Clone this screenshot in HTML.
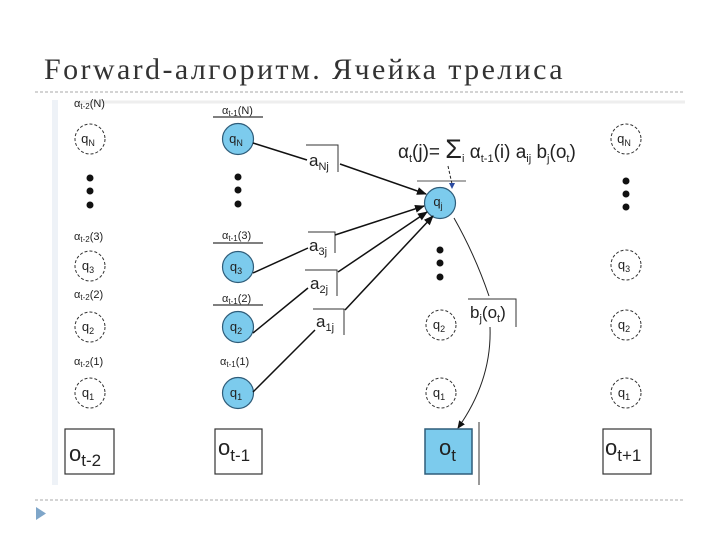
<!DOCTYPE html>
<html><head><meta charset="utf-8"><style>
body{margin:0;background:#fff;}
svg{display:block;}
.t{font-family:"Liberation Sans",sans-serif;fill:#222;}
</style></head><body>
<svg width="720" height="540" viewBox="0 0 720 540" xmlns="http://www.w3.org/2000/svg">
<defs>
<marker id="ar" markerWidth="10" markerHeight="8" refX="9" refY="4" orient="auto" markerUnits="userSpaceOnUse">
<path d="M0,0 L10,4 L0,8 z" fill="#111"/></marker>
<marker id="ar2" markerWidth="8" markerHeight="7" refX="7" refY="3.5" orient="auto" markerUnits="userSpaceOnUse">
<path d="M0,0 L8,3.5 L0,7 z" fill="#111"/></marker>
</defs>
<text x="44" y="79" font-family="'Liberation Serif',serif" font-size="30" letter-spacing="2.4" fill="#333">Forward-алгоритм. Ячейка трелиса</text>
<line x1="35" y1="92" x2="685" y2="92" stroke="#aaa" stroke-dasharray="3,2"/>
<line x1="35" y1="500" x2="685" y2="500" stroke="#aaa" stroke-dasharray="3,2"/>
<path d="M36,507 L46,513.5 L36,520 z" fill="#7fa6c9"/>
<rect x="52" y="100" width="6" height="385" fill="#eef2f7"/>
<line x1="75" y1="102" x2="685" y2="102" stroke="#eee" stroke-width="3"/>

<g class="t" font-size="11">
<text x="74" y="107">α<tspan font-size="8" dy="2">t-2</tspan><tspan dy="-2">(N)</tspan></text>
<text x="74" y="240">α<tspan font-size="8" dy="2">t-2</tspan><tspan dy="-2">(3)</tspan></text>
<text x="74" y="298">α<tspan font-size="8" dy="2">t-2</tspan><tspan dy="-2">(2)</tspan></text>
<text x="74" y="365">α<tspan font-size="8" dy="2">t-2</tspan><tspan dy="-2">(1)</tspan></text>
<text x="222" y="114">α<tspan font-size="8" dy="2">t-1</tspan><tspan dy="-2">(N)</tspan></text>
<text x="222" y="239">α<tspan font-size="8" dy="2">t-1</tspan><tspan dy="-2">(3)</tspan></text>
<text x="222" y="302">α<tspan font-size="8" dy="2">t-1</tspan><tspan dy="-2">(2)</tspan></text>
<text x="220" y="365">α<tspan font-size="8" dy="2">t-1</tspan><tspan dy="-2">(1)</tspan></text>
</g>
<g stroke="#555" stroke-width="1.5">
<line x1="213" y1="117" x2="263" y2="117"/>
<line x1="213" y1="243" x2="263" y2="243"/>
<line x1="213" y1="305" x2="263" y2="305"/>
<line x1="417" y1="181" x2="466" y2="181" stroke-width="1"/>
</g>

<g fill="none" stroke="#333" stroke-dasharray="3,2">
<circle cx="90" cy="139" r="15"/><circle cx="90" cy="266" r="15"/><circle cx="90" cy="327" r="15"/><circle cx="90" cy="393" r="15"/>
<circle cx="441" cy="325" r="15"/><circle cx="441" cy="393" r="15"/>
<circle cx="626" cy="139" r="15"/><circle cx="626" cy="265" r="15"/><circle cx="626" cy="325" r="15"/><circle cx="626" cy="393" r="15"/>
</g>
<g fill="#111">
<circle cx="90" cy="178" r="3.5"/><circle cx="90" cy="191" r="3.5"/><circle cx="90" cy="205" r="3.5"/>
<circle cx="238" cy="177" r="3.5"/><circle cx="238" cy="190" r="3.5"/><circle cx="238" cy="204" r="3.5"/>
<circle cx="440" cy="250" r="3.5"/><circle cx="440" cy="263" r="3.5"/><circle cx="440" cy="277" r="3.5"/>
<circle cx="626" cy="181" r="3.5"/><circle cx="626" cy="194" r="3.5"/><circle cx="626" cy="207" r="3.5"/>
</g>
<g fill="#7ccbed" stroke="#2f5d7a" stroke-width="1.2">
<circle cx="238" cy="139" r="15.5"/><circle cx="238" cy="267" r="15.5"/><circle cx="238" cy="327" r="15.5"/><circle cx="238" cy="393" r="15.5"/>
<circle cx="440" cy="203" r="15.5"/>
</g>
<g class="t" font-size="13" text-anchor="middle">
<text x="88" y="143">q<tspan font-size="9" dy="3">N</tspan></text>
<text x="88" y="270">q<tspan font-size="9" dy="3">3</tspan></text>
<text x="88" y="331">q<tspan font-size="9" dy="3">2</tspan></text>
<text x="88" y="397">q<tspan font-size="9" dy="3">1</tspan></text>
<text x="236" y="143">q<tspan font-size="9" dy="3">N</tspan></text>
<text x="236" y="271">q<tspan font-size="9" dy="3">3</tspan></text>
<text x="236" y="331">q<tspan font-size="9" dy="3">2</tspan></text>
<text x="236" y="397">q<tspan font-size="9" dy="3">1</tspan></text>
<text x="438" y="206">q<tspan font-size="9" dy="3">j</tspan></text>
<text x="439" y="329">q<tspan font-size="9" dy="3">2</tspan></text>
<text x="439" y="397">q<tspan font-size="9" dy="3">1</tspan></text>
<text x="624" y="143">q<tspan font-size="9" dy="3">N</tspan></text>
<text x="624" y="269">q<tspan font-size="9" dy="3">3</tspan></text>
<text x="624" y="329">q<tspan font-size="9" dy="3">2</tspan></text>
<text x="624" y="397">q<tspan font-size="9" dy="3">1</tspan></text>
</g>

<g stroke="#333" fill="none" stroke-width="1">
<path d="M306,145 H338 V172"/>
<path d="M308,232 H335 V253"/>
<path d="M305,270 H337 V296"/>
<path d="M313,309 H344 V335"/>
<path d="M468,299 H516 V327"/>
<line x1="479" y1="422" x2="479" y2="485"/>
</g>
<g class="t" font-size="17">
<text x="309" y="166">a<tspan font-size="11" dy="4">Nj</tspan></text>
<text x="309" y="251">a<tspan font-size="11" dy="4">3j</tspan></text>
<text x="310" y="289">a<tspan font-size="11" dy="4">2j</tspan></text>
<text x="316" y="327">a<tspan font-size="11" dy="4">1j</tspan></text>
<text x="470" y="318">b<tspan font-size="11" dy="4">j</tspan><tspan dy="-4">(o</tspan><tspan font-size="11" dy="4">t</tspan><tspan dy="-4">)</tspan></text>
</g>
<text class="t" x="398" y="158" font-size="19">α<tspan font-size="11" dy="4">t</tspan><tspan dy="-4">(j)= </tspan><tspan font-size="27">Σ</tspan><tspan font-size="11" dy="4">i</tspan><tspan dy="-4"> α</tspan><tspan font-size="11" dy="4">t-1</tspan><tspan dy="-4">(i) a</tspan><tspan font-size="11" dy="4">ij</tspan><tspan dy="-4"> b</tspan><tspan font-size="11" dy="4">j</tspan><tspan dy="-4">(o</tspan><tspan font-size="11" dy="4">t</tspan><tspan dy="-4">)</tspan></text>

<g stroke="#111" stroke-width="1.5" fill="none">
<line x1="253" y1="143" x2="307" y2="160"/>
<line x1="253" y1="273" x2="308" y2="248"/>
<line x1="253" y1="333" x2="308" y2="288"/>
<line x1="253" y1="392" x2="315" y2="330"/>
<line x1="340" y1="164" x2="426" y2="194" marker-end="url(#ar)"/>
<line x1="335" y1="235" x2="424" y2="206" marker-end="url(#ar)"/>
<line x1="338" y1="272" x2="427" y2="212" marker-end="url(#ar)"/>
<line x1="345" y1="310" x2="433" y2="216" marker-end="url(#ar)"/>
</g>
<g stroke="#222" stroke-width="1" fill="none">
<path d="M454,218 Q475,255 489,296"/>
<path d="M490,327 Q492,380 458,428" marker-end="url(#ar2)"/>
<path d="M448,166 L452,184" stroke-dasharray="3,2"/>
</g>
<path d="M449,183 L455,183 L452,189 z" fill="#2a4aa0"/>

<g stroke="#333" fill="#fff" stroke-width="1.2">
<rect x="65" y="429" width="49" height="45"/>
<rect x="215" y="429" width="47" height="45"/>
<rect x="603" y="429" width="48" height="45"/>
</g>
<rect x="425" y="429" width="47" height="45" fill="#7ccbed" stroke="#2f5d7a" stroke-width="1.5"/>
<g class="t" font-size="22">
<text x="69" y="461">o<tspan font-size="17" dy="5">t-2</tspan></text>
<text x="218" y="455">o<tspan font-size="17" dy="6">t-1</tspan></text>
<text x="439" y="455">o<tspan font-size="17" dy="6">t</tspan></text>
<text x="605" y="455">o<tspan font-size="17" dy="6">t+1</tspan></text>
</g>
</svg>
</body></html>
